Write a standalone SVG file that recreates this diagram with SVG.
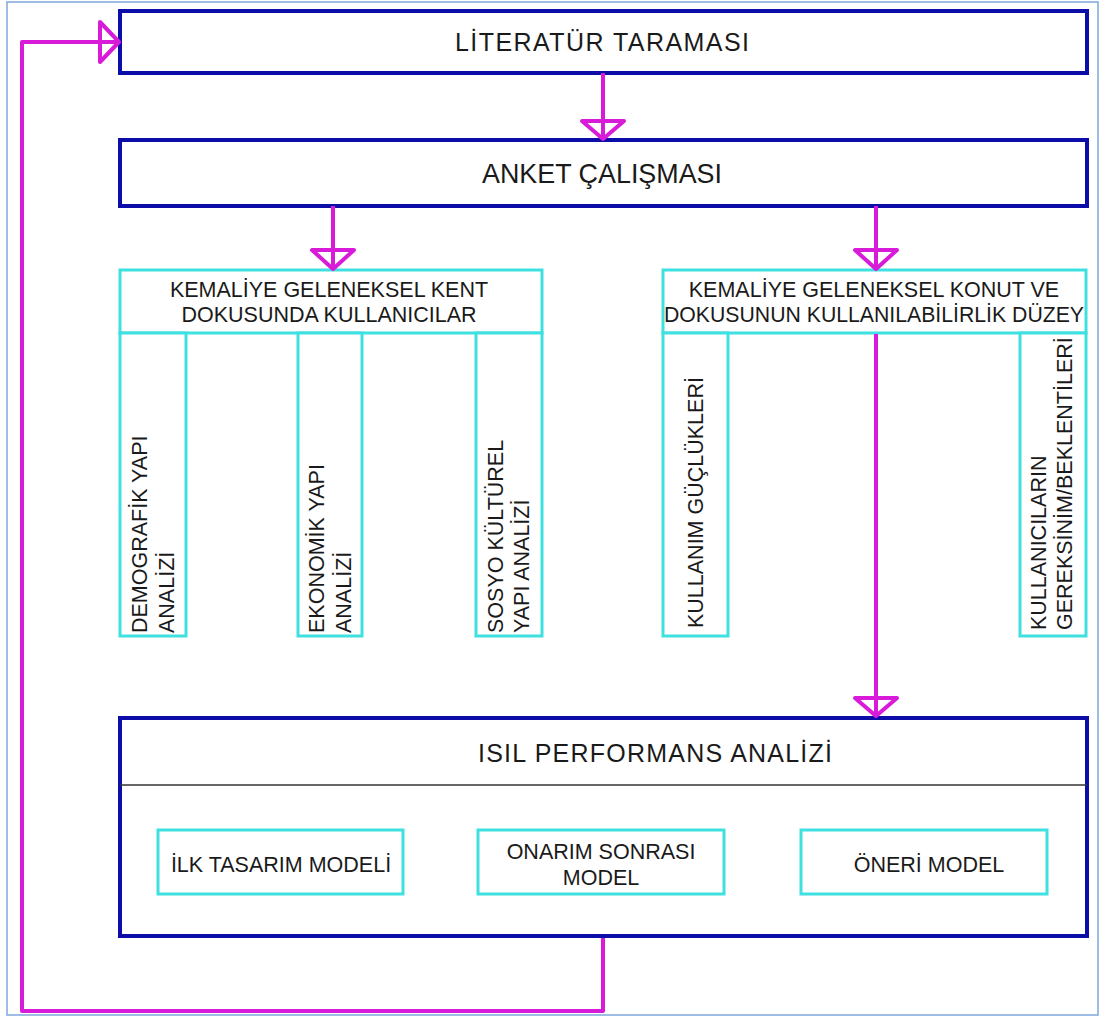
<svg xmlns="http://www.w3.org/2000/svg" width="1101" height="1017" viewBox="0 0 1101 1017">
<style>
.frame{fill:#ffffff;stroke:#7fa8dc;stroke-width:1.5}
.main{fill:#ffffff;stroke:#0c0ca8;stroke-width:4}
.sub{fill:#ffffff;stroke:#3fe0e0;stroke-width:3}
.con{fill:none;stroke:#d81bd8;stroke-width:4;stroke-linejoin:round}
.head{fill:#ffffff;stroke:#d81bd8;stroke-width:4;stroke-linejoin:round}
text{font-family:"Liberation Sans",Arial,sans-serif;fill:#1a1a1a}
.t21{font-size:21.5px}
.big{font-size:25px}
.mid{text-anchor:middle}
</style>
<rect class="frame" x="7" y="2" width="1091" height="1013"/>

<g id="n-literatur">
<rect class="main" x="120" y="11" width="967" height="62"/>
<text class="big" x="455" y="51" textLength="294" lengthAdjust="spacing">LİTERATÜR TARAMASI</text>
</g>

<g id="n-anket">
<rect class="main" x="120" y="140" width="967" height="66"/>
<text x="482" y="183" style="font-size:28px" textLength="240" lengthAdjust="spacingAndGlyphs">ANKET ÇALIŞMASI</text>
</g>

<g id="n-kullanicilar">
<rect class="sub" x="120" y="270" width="422" height="63"/>
<text class="t21 mid" x="329" y="297">KEMALİYE GELENEKSEL KENT</text>
<text class="t21 mid" x="329" y="322">DOKUSUNDA KULLANICILAR</text>
</g>

<g id="n-demografik">
<rect class="sub" x="120" y="333" width="66" height="303"/>
<text class="t21" transform="translate(146.5,633) rotate(-90)">DEMOGRAFİK YAPI</text>
<text class="t21" transform="translate(173.5,633) rotate(-90)">ANALİZİ</text>
</g>

<g id="n-ekonomik">
<rect class="sub" x="298" y="333" width="64" height="303"/>
<text class="t21" transform="translate(323.5,633) rotate(-90)">EKONOMİK YAPI</text>
<text class="t21" transform="translate(350.5,633) rotate(-90)">ANALİZİ</text>
</g>

<g id="n-sosyo">
<rect class="sub" x="476" y="333" width="66" height="303"/>
<text class="t21" transform="translate(502.5,633) rotate(-90)">SOSYO KÜLTÜREL</text>
<text class="t21" transform="translate(528.5,633) rotate(-90)">YAPI ANALİZİ</text>
</g>

<g id="n-kullanilabilirlik">
<rect class="sub" x="663" y="270" width="423" height="63"/>
<text class="t21 mid" x="874" y="297">KEMALİYE GELENEKSEL KONUT VE</text>
<text class="t21 mid" x="874" y="322" textLength="420" lengthAdjust="spacingAndGlyphs">DOKUSUNUN KULLANILABİLİRLİK DÜZEY</text>
</g>

<g id="n-guclukler">
<rect class="sub" x="663" y="333" width="65" height="303"/>
<text class="t21" transform="translate(703,628) rotate(-90)">KULLANIM GÜÇLÜKLERİ</text>
</g>

<g id="n-beklentiler">
<rect class="sub" x="1020" y="333" width="66" height="303"/>
<text class="t21" transform="translate(1046,630) rotate(-90)">KULLANICILARIN</text>
<text class="t21" transform="translate(1072,630) rotate(-90)">GEREKSİNİM/BEKLENTİLERİ</text>
</g>

<g id="n-isil">
<rect class="main" x="120" y="718" width="967" height="218"/>
<line x1="120" y1="785" x2="1087" y2="785" stroke="#333333" stroke-width="1.5"/>
<text class="big" x="478" y="762" textLength="354" lengthAdjust="spacing">ISIL PERFORMANS ANALİZİ</text>
</g>

<g id="n-ilk">
<rect class="sub" x="158" y="830" width="245" height="64"/>
<text class="t21 mid" x="281" y="872">İLK TASARIM MODELİ</text>
</g>

<g id="n-onarim">
<rect class="sub" x="478" y="830" width="246" height="64"/>
<text class="t21 mid" x="601" y="859">ONARIM SONRASI</text>
<text class="t21 mid" x="601" y="885">MODEL</text>
</g>

<g id="n-oneri">
<rect class="sub" x="801" y="830" width="246" height="64"/>
<text class="t21 mid" x="929" y="872">ÖNERİ MODEL</text>
</g>

<g id="connectors">
<line class="con" x1="603" y1="73" x2="603" y2="139"/>
<polygon class="head" points="582,121 624,121 603,139"/>
<line class="con" x1="603" y1="121" x2="603" y2="139"/>

<line class="con" x1="333" y1="206" x2="333" y2="269"/>
<polygon class="head" points="312,250 354,250 333,269"/>
<line class="con" x1="333" y1="250" x2="333" y2="269"/>

<line class="con" x1="876" y1="206" x2="876" y2="269"/>
<polygon class="head" points="855,250 897,250 876,269"/>
<line class="con" x1="876" y1="250" x2="876" y2="269"/>

<line class="con" x1="876" y1="334" x2="876" y2="716"/>
<polygon class="head" points="855,698 897,698 876,716"/>
<line class="con" x1="876" y1="698" x2="876" y2="716"/>

<polyline class="con" points="603,938 603,1011 22,1011 22,42 119,42"/>
<polygon class="head" points="100,22 100,62 119,42"/>
<line class="con" x1="100" y1="42" x2="119" y2="42"/>
</g>
</svg>
